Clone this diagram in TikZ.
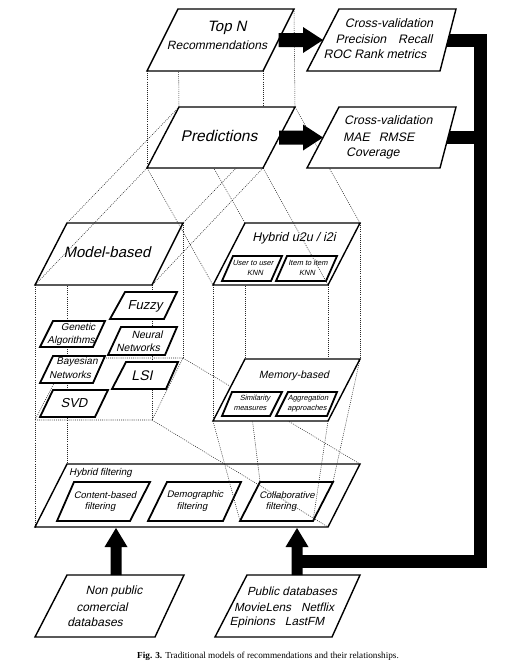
\documentclass[tikz,border=0pt]{standalone}
\usepackage{fontspec}
\setmainfont{Liberation Sans}
\newfontfamily\lblfont{Liberation Sans}[FakeSlant=0.22]
\newfontfamily\capfont{Liberation Serif}
\usetikzlibrary{calc}
\newcommand\myfs[1]{\fontsize{#1}{#1}\selectfont}
% name, ybottom, ytop, xbl, xbr, xtr, xtl
\newcommand\quadc[7]{%
 \coordinate (#1-bl) at (#4,#2);
 \coordinate (#1-br) at (#5,#2);
 \coordinate (#1-tr) at (#6,#3);
 \coordinate (#1-tl) at (#7,#3);}
\newcommand\quadd[2]{\draw[#2] (#1-bl) -- (#1-br) -- (#1-tr) -- (#1-tl) -- cycle;}
\newcommand\fatR[2]{\fill ($(#1)+(0,-7)$) -- ($(#2)+(-20,-7)$) -- ($(#2)+(-20,-13)$) -- (#2) -- ($(#2)+(-20,13)$) -- ($(#2)+(-20,7)$) -- ($(#1)+(0,7)$) -- cycle;}
\newcommand\fatU[2]{\fill ($(#1)+(-5.5,0)$) -- ($(#2)+(-5.5,19)$) -- ($(#2)+(-11.5,19)$) -- (#2) -- ($(#2)+(11.5,19)$) -- ($(#2)+(5.5,19)$) -- ($(#1)+(5.5,0)$) -- cycle;}
\tikzset{
 bigbox/.style={draw=black, line width=1.4pt, fill=white, line join=miter},
 innerbox/.style={draw=black, line width=1.8pt, fill=white, line join=miter},
 dotl/.style={draw=black!85, line width=0.55pt, dash pattern=on 0.9pt off 1.2pt},
 lbl/.style={inner sep=0pt, align=center},
 bar/.style={line width=13pt, line join=miter, line cap=butt, draw=black}
}
\begin{document}
\begin{tikzpicture}[x=1pt,y=-1pt]
\useasboundingbox (0,0) rectangle (511,667);
% ---------- geometry
\quadc{topn}{71}{9}{147}{263}{294}{178}
\quadc{pred}{168}{107}{147}{263}{295}{179}
\quadc{cv1}{71}{9}{307}{440}{456}{339}
\quadc{cv2}{168}{107}{307}{440}{456}{339}
\quadc{mb}{285}{223}{35}{152}{183}{67}
\quadc{mbl}{420}{358}{35}{152}{183}{67}
\quadc{hy}{285}{223}{213}{328}{360}{245}
\quadc{mem}{421}{359}{213}{328}{360}{245}
\quadc{fuz}{319}{292}{110}{164}{177}{125}
\quadc{gen}{347}{321}{40}{93}{105}{53}
\quadc{neu}{355}{327}{108}{165}{177}{121}
\quadc{bay}{383}{356}{40}{93}{105}{53}
\quadc{lsi}{389}{362}{112}{166}{178}{126}
\quadc{svd}{417}{390}{40}{95}{108}{53}
\quadc{uu}{281}{256}{222}{271}{282}{233}
\quadc{ii}{281}{256}{276}{326}{337}{287}
\quadc{sim}{416}{392}{222}{270}{282}{232}
\quadc{agg}{416}{392}{276}{327}{337}{288}
\quadc{hf}{527}{464}{35}{328}{360}{67}
\quadc{cb}{521}{482}{57}{130}{150}{74}
\quadc{dem}{521}{482}{148}{223}{241}{167}
\quadc{col}{521}{482}{240}{313}{333}{260}
\quadc{np}{637}{575}{35}{155}{184}{67}
\quadc{pub}{637}{575}{215}{332}{360}{247}

% ---------- model-based prism (dotted, behind)
\draw[dotl] (mb-bl) -- (hf-bl);
\draw[dotl] (mb-tl) -- (hf-tl);
\draw[dotl] (mb-br) -- (mbl-br);
\draw[dotl] (mb-tr) -- (mbl-tr);
\quadd{mbl}{dotl}
% ---------- hybrid u2u prism verticals
\draw[dotl] (hy-bl) -- (mem-bl);
\draw[dotl] (hy-tl) -- (mem-tl);
\draw[dotl] (hy-br) -- (mem-br);
\draw[dotl] (hy-tr) -- (mem-tr);

% ---------- Model-based and its methods
\quadd{mb}{bigbox}
\node[lbl, font=\lblfont\myfs{15}] (mbt) at (107,252) {Model-based};
\quadd{fuz}{innerbox}
\node[lbl, font=\lblfont\myfs{13}] (fuzt) at (145,306) {Fuzzy};
\quadd{gen}{innerbox}
\node[lbl, font=\lblfont\myfs{10}] (gent1) at (78,327) {Genetic};
\node[lbl, font=\lblfont\myfs{10}] (gent2) at (71,341) {Algorithms};
\quadd{neu}{innerbox}
\node[lbl, font=\lblfont\myfs{10.5}] (neut1) at (147,335) {Neural};
\node[lbl, font=\lblfont\myfs{10.5}] (neut2) at (138,348) {Networks};
\quadd{bay}{innerbox}
\node[lbl, font=\lblfont\myfs{10}] (bayt1) at (77,362) {Bayesian};
\node[lbl, font=\lblfont\myfs{10}] (bayt2) at (70,375) {Networks};
\quadd{lsi}{innerbox}
\node[lbl, font=\lblfont\myfs{14}] (lsit) at (142,376) {LSI};
\quadd{svd}{innerbox}
\node[lbl, font=\lblfont\myfs{13}] (svdt) at (74,403) {SVD};

% ---------- Hybrid u2u / i2i
\quadd{hy}{bigbox}
\node[lbl, font=\lblfont\myfs{12.5}] (hyt) at (294,238) {Hybrid u2u / i2i};
\quadd{uu}{innerbox}
\node[lbl, font=\lblfont\myfs{7.5}] (uut1) at (253,263) {User to user};
\node[lbl, font=\lblfont\myfs{7.5}] (uut2) at (255,273) {KNN};
\quadd{ii}{innerbox}
\node[lbl, font=\lblfont\myfs{7.5}] (iit1) at (308,263) {Item to item};
\node[lbl, font=\lblfont\myfs{7.5}] (iit2) at (307,273) {KNN};

% ---------- lines from Predictions (over the top faces)
\draw[dotl] (pred-tl) -- (mb-tl);
\draw[dotl] (pred-tr) -- (mb-tr);
\draw[dotl] (pred-bl) -- (mb-bl);
\draw[dotl] (pred-br) -- (mb-br);
\draw[dotl] (pred-tl) -- (hy-tl);
\draw[dotl] (pred-tr) -- (hy-tr);
\draw[dotl] (pred-bl) -- (hy-bl);
\draw[dotl] (pred-br) -- (hy-br);
% ---------- Top N / Predictions prism
\draw[dotl] (topn-bl) -- (pred-bl);
\draw[dotl] (topn-tl) -- (pred-tl);
\draw[dotl] (topn-br) -- (pred-br);
\draw[dotl] (topn-tr) -- (pred-tr);
\quadd{topn}{bigbox}
\node[lbl, font=\lblfont\myfs{15}] (topnt1) at (227,28) {Top N};
\node[lbl, font=\lblfont\myfs{12}] (topnt2) at (217,45) {Recommendations};
\quadd{pred}{bigbox}
\node[lbl, font=\lblfont\myfs{15.5}] (predt) at (219,136) {Predictions};

% ---------- Hybrid filtering
\quadd{hf}{bigbox}
\node[lbl, font=\lblfont\myfs{9.8}, anchor=west] (hft) at (69,473) {Hybrid filtering};
\quadd{cb}{innerbox}
\node[lbl, font=\lblfont\myfs{9.5}] (cbt1) at (105,495) {Content-based};
\node[lbl, font=\lblfont\myfs{9.5}] (cbt2) at (100,507) {filtering};
\quadd{dem}{innerbox}
\node[lbl, font=\lblfont\myfs{9.5}] (demt1) at (195,495) {Demographic};
\node[lbl, font=\lblfont\myfs{9.5}] (demt2) at (192,507) {filtering};
\quadd{col}{innerbox}
\node[lbl, font=\lblfont\myfs{9.5}] (colt1) at (287,495) {Collaborative};
\node[lbl, font=\lblfont\myfs{9.5}] (colt2) at (281,507) {filtering};
% lines onto the hybrid filtering level
\draw[dotl] (mbl-tr) -- (hf-tr);
\draw[dotl] (mbl-br) -- (hf-br);
\draw[dotl] (mem-bl) -- (col-bl);
\draw[dotl] (mem-tl) -- (col-tl);
\draw[dotl] (mem-br) -- (col-br);
\draw[dotl] (mem-tr) -- (col-tr);

% ---------- Memory-based
\quadd{mem}{bigbox}
\node[lbl, font=\lblfont\myfs{10.5}] (memt) at (294,376) {Memory-based};
\quadd{sim}{innerbox}
\node[lbl, font=\lblfont\myfs{7.5}] (simt1) at (255,399) {Similarity};
\node[lbl, font=\lblfont\myfs{7.5}] (simt2) at (250,409) {measures};
\quadd{agg}{innerbox}
\node[lbl, font=\lblfont\myfs{7.5}] (aggt1) at (308,399) {Aggregation};
\node[lbl, font=\lblfont\myfs{7.5}] (aggt2) at (307,409) {approaches};

% ---------- thick feedback bars
\coordinate (cv1r) at (444,40);
\coordinate (k1) at (480,40);
\coordinate (k2) at (480,561);
\coordinate (k3) at (297,561);
\coordinate (cv2r) at (444,137.5);
\coordinate (k4) at (480,137.5);
\draw[bar] (cv1r) -- (k1) -- (k2) -- (k3);
\draw[bar] (cv2r) -- (k4);

% ---------- evaluation boxes
\quadd{cv1}{bigbox}
\node[lbl, font=\lblfont\myfs{12.3}] (cv1t1) at (389,23) {Cross-validation};
\node[lbl, font=\lblfont\myfs{12.3}] (cv1t2) at (384,39) {Precision\hspace{12pt}Recall};
\node[lbl, font=\lblfont\myfs{12.3}] (cv1t3) at (375,54) {ROC Rank metrics};
\quadd{cv2}{bigbox}
\node[lbl, font=\lblfont\myfs{12.3}, anchor=west] (cv2t1) at (344,120) {Cross-validation};
\node[lbl, font=\lblfont\myfs{12.3}, anchor=west] (cv2t2) at (343,137) {MAE\hspace{9pt}RMSE};
\node[lbl, font=\lblfont\myfs{12.3}, anchor=west] (cv2t3) at (346,153) {Coverage};

% ---------- fat arrows top
\coordinate (a1s) at ($(topn-br)!0.5!(topn-tr)$);
\coordinate (a1e) at ($(cv1-bl)!0.5!(cv1-tl)$);
\coordinate (a2s) at ($(pred-br)!0.5!(pred-tr)$);
\coordinate (a2e) at ($(cv2-bl)!0.5!(cv2-tl)$);
\fatR{a1s}{a1e}
\fatR{a2s}{a2e}

% ---------- databases
\quadd{np}{bigbox}
\node[lbl, font=\lblfont\myfs{12}] (npt1) at (114,591) {Non public};
\node[lbl, font=\lblfont\myfs{12}] (npt2) at (102,607) {comercial};
\node[lbl, font=\lblfont\myfs{12}] (npt3) at (95,622) {databases};
\quadd{pub}{bigbox}
\node[lbl, font=\lblfont\myfs{11.8}] (pubt1) at (292,591) {Public databases};
\node[lbl, font=\lblfont\myfs{11.8}] (pubt2) at (284,607) {MovieLens\hspace{10pt}Netflix};
\node[lbl, font=\lblfont\myfs{11.8}] (pubt3) at (277,622) {Epinions\hspace{10pt}LastFM};

\coordinate (b1s) at (116,575);
\coordinate (b1e) at (116,528);
\coordinate (b2s) at (297,575);
\coordinate (b2e) at (297,528);
\fatU{b1s}{b1e}
\fatU{b2s}{b2e}

% ---------- caption
\node[inner sep=0pt, font=\capfont\myfs{9.2}] (cap) at (268,656) {\textbf{Fig. 3.} Traditional models of recommendations and their relationships.};
\end{tikzpicture}
\end{document}
